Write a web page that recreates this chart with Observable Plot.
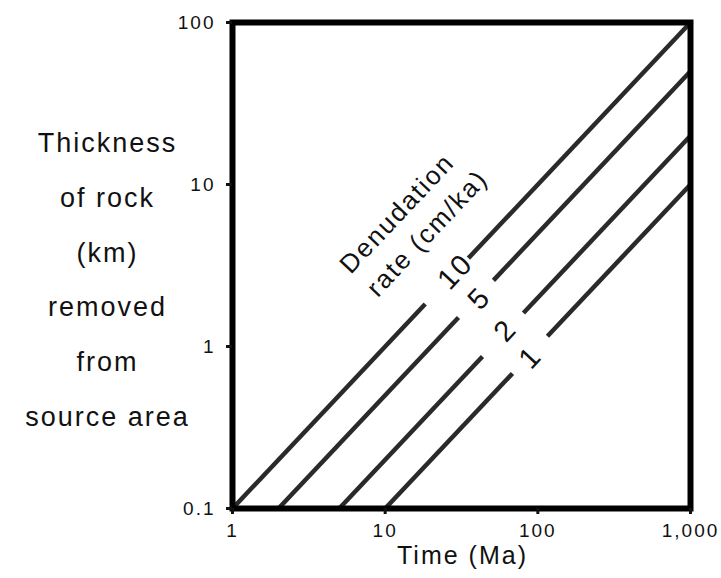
<!DOCTYPE html>
<html><head><meta charset="utf-8">
<script src="https://cdn.jsdelivr.net/npm/d3@7"></script>
<script src="https://cdn.jsdelivr.net/npm/@observablehq/plot@0.6"></script>
<style>body{margin:0;background:#fff}</style>
</head><body><div id="chart"></div>
<script>
// Denudation rate lines (cm/ka); thickness (km) = rate/100 * time (Ma)
const rates = [10, 5, 2, 1];
const rateLabels = ["10", "5", "2", "1"];
const startX = [1, 2, 5, 10];
const endX = [1000, 1000, 1000, 1000];
const gapStartX = [18.3, 30.2, 43.4, 68.2];
const gapEndX = [35.1, 51.2, 80.5, 115.6];
const labelX = [28.9, 41.5, 61.4, 89.4];
const labelY = [2.9, 1.98, 1.255, 0.855];
const xTicks = [1, 10, 100, 1000];
const yTicks = [0.1, 1, 10, 100];
const yLabelLines = ["Thickness", "of rock", "(km)", "removed", "from", "source area"];
const xLabel = "Time (Ma)";
const keyLines = ["Denudation", "rate (cm/ka)"];
const keyX = [12.0, 18.9];
const keyY = [6.62, 4.99];

const segments = [];
rates.forEach((r, i) => {
  const k = r / 100;
  segments.push({x1: startX[i], y1: k * startX[i], x2: gapStartX[i], y2: k * gapStartX[i]});
  segments.push({x1: gapEndX[i], y1: k * gapEndX[i], x2: endX[i], y2: k * endX[i]});
});
const numLabels = rateLabels.map((t, i) => ({t, x: labelX[i], y: labelY[i]}));
const keys = keyLines.map((t, i) => ({t, x: keyX[i], y: keyY[i]}));

const angle = -46.7;

const chart = Plot.plot({
  width: 721,
  height: 578,
  marginLeft: 232,
  marginRight: 31,
  marginTop: 22,
  marginBottom: 70,
  style: {fontFamily: "'Liberation Sans', Arial, sans-serif", letterSpacing: "2px", color: "#111", background: "#fff"},
  x: {type: "log", domain: [1, 1000]},
  y: {type: "log", domain: [0.1, 100]},
  marks: [
    Plot.link(segments, {x1: "x1", y1: "y1", x2: "x2", y2: "y2", stroke: "#2a2a2a", strokeWidth: 4.5, strokeLinecap: "butt"}),
    Plot.frame({stroke: "#000", strokeWidth: 6}),
    Plot.axisX({ticks: xTicks, tickFormat: d3.format(","), tickSize: 6, tickPadding: 9, fontSize: 19, strokeWidth: 3, label: null}),
    Plot.axisY({ticks: yTicks, tickFormat: d => String(d), tickSize: 6, tickPadding: 11, fontSize: 19, strokeWidth: 3, label: null}),
    Plot.text(numLabels, {x: "x", y: "y", text: "t", rotate: angle, fontSize: 29, fill: "#111"}),
    Plot.text(keys, {x: "x", y: "y", text: "t", rotate: angle, fontSize: 26, fill: "#111"}),
    Plot.text([yLabelLines.join("\n")], {frameAnchor: "left", dx: -125, dy: 6, textAnchor: "middle", lineHeight: 2.03, fontSize: 27, fill: "#111"}),
    Plot.text([xLabel], {frameAnchor: "bottom", dx: 1, dy: 55, fontSize: 25, fill: "#111"})
  ]
});
document.getElementById("chart").appendChild(chart);
</script>
</body></html>
